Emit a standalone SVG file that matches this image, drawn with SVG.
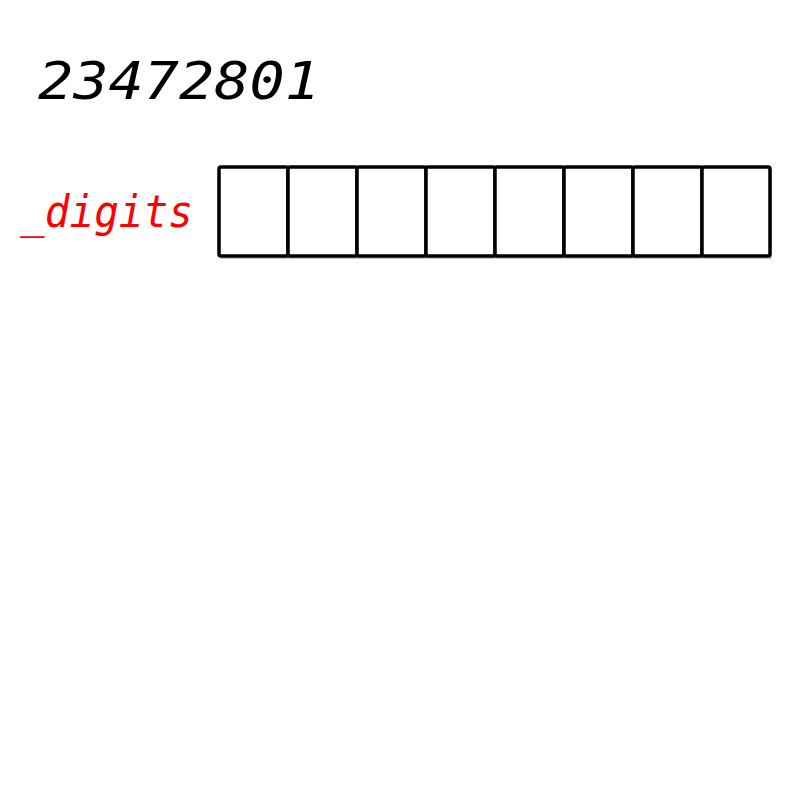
<svg xmlns="http://www.w3.org/2000/svg" width="800" height="800" viewBox="0 0 800 800">
<style>
.num{font-family:"DejaVu Sans Mono","Liberation Mono",monospace;font-style:italic;}
.cell{fill:#fff;stroke:#000;stroke-width:3.5;}
</style>
<rect width="800" height="800" fill="#fff"/>
<text id="value" class="num" x="38" y="99" font-size="52" textLength="282" lengthAdjust="spacingAndGlyphs" fill="#000">23472801</text>
<text id="label" class="num" x="20" y="227" font-size="45" textLength="173" lengthAdjust="spacingAndGlyphs" fill="#ff0000">_digits</text>
<g id="array">
<rect x="221" y="169" width="551" height="90" fill="#c8c8c8"/>
<rect class="cell" x="219" y="167" width="69" height="89" rx="2"/>
<rect class="cell" x="288" y="167" width="69" height="89" rx="2"/>
<rect class="cell" x="357" y="167" width="69" height="89" rx="2"/>
<rect class="cell" x="426" y="167" width="69" height="89" rx="2"/>
<rect class="cell" x="495" y="167" width="69" height="89" rx="2"/>
<rect class="cell" x="564" y="167" width="69" height="89" rx="2"/>
<rect class="cell" x="633" y="167" width="69" height="89" rx="2"/>
<rect class="cell" x="702" y="167" width="68" height="89" rx="2"/>
</g>
</svg>
